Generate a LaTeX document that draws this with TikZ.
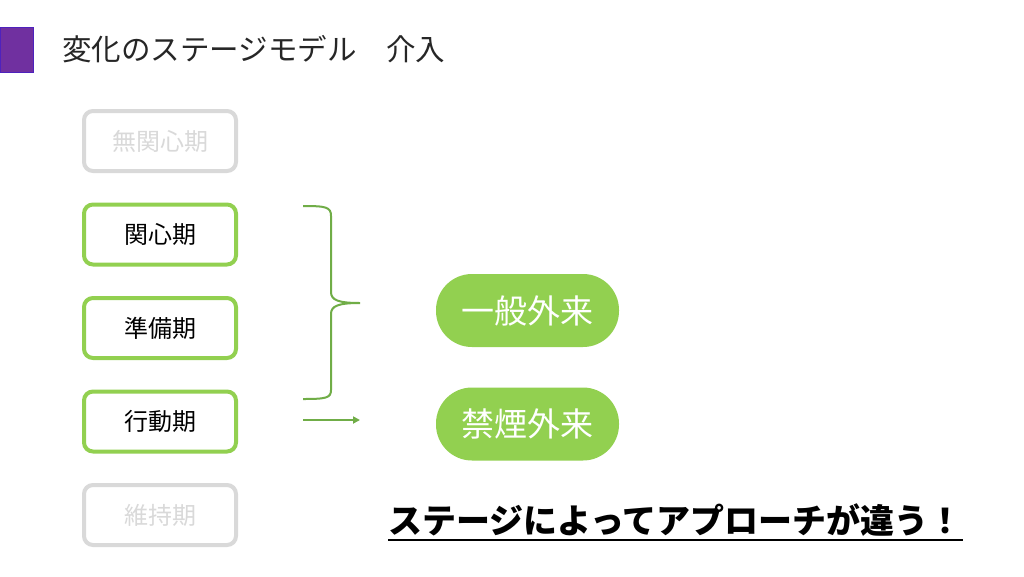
\documentclass[tikz,border=0pt]{standalone}
\usepackage{fontspec}
\setmainfont{Noto Sans CJK JP}[BoldFont={Noto Sans CJK JP Black}]
\usetikzlibrary{arrows.meta}
\definecolor{lgreen}{HTML}{92D050}
\definecolor{dgreen}{HTML}{70AD47}
\definecolor{lgray}{HTML}{D9D9D9}
\definecolor{purp}{HTML}{7030A0}
\begin{document}
\begin{tikzpicture}[x=1pt,y=-1pt,
  stagebox/.style={draw=lgreen,line width=4pt,rounded corners=9pt,minimum width=152pt,minimum height=60pt,fill=white,font=\fontsize{24}{28}\selectfont,text=black,inner sep=0pt},
  grayst/.style={stagebox,draw=lgray,text=lgray},
  pill/.style={fill=lgreen,rounded corners=36pt,minimum width=183pt,minimum height=73pt,text=white,font=\fontsize{33}{38}\selectfont,inner sep=0pt},
  bracelin/.style={draw=dgreen,line width=2pt}]
\useasboundingbox (0,0) rectangle (1024,576);
\fill[white] (0,0) rectangle (1024,576);
\node[fill=purp,draw=purp!70!blue,line width=0.8pt,minimum width=33pt,minimum height=45pt,inner sep=0pt,anchor=north west] (sq) at (0,27) {};
\node[anchor=west,font=\fontsize{29.5}{34}\selectfont,text=black!85,inner sep=0pt] (title) at (62,49) {変化のステージモデル　介入};
\node[grayst] (s1) at (160,141) {無関心期};
\node[stagebox] (s2) at (160,234.5) {関心期};
\node[stagebox] (s3) at (160,328) {準備期};
\node[stagebox] (s4) at (160,421.5) {行動期};
\node[grayst] (s5) at (160,515) {維持期};
\node[pill] (p1) at (527.5,310.5) {一般外来};
\node[pill] (p2) at (527.5,424) {禁煙外来};
\coordinate (bt) at (303,206);
\coordinate (btip) at (360,303);
\coordinate (bb) at (303,399);
\draw[bracelin] (bt) .. controls (326,206) and (331,207) .. (331,216) -- (331,292)
  .. controls (331,300) and (338,303) .. (btip)
  .. controls (338,303) and (331,306) .. (331,314) -- (331,390)
  .. controls (331,398) and (326,399) .. (bb);
\coordinate (as) at (303,420);
\coordinate (ae) at (360,420);
\draw[bracelin,line width=1.8pt,-{Triangle[length=7pt,width=7pt]}] (as) -- (ae);
\node[anchor=south west,font=\fontsize{34}{38}\selectfont\bfseries,text=black,inner sep=0pt] (msg) at (388,537) {ステージによってアプローチが違う！};
\path (msg.south west) ++(0,3) coordinate (u1) (msg.south east) ++(0,3) coordinate (u2);
\draw[line width=2pt] (u1) -- (u2);
\end{tikzpicture}
\end{document}
